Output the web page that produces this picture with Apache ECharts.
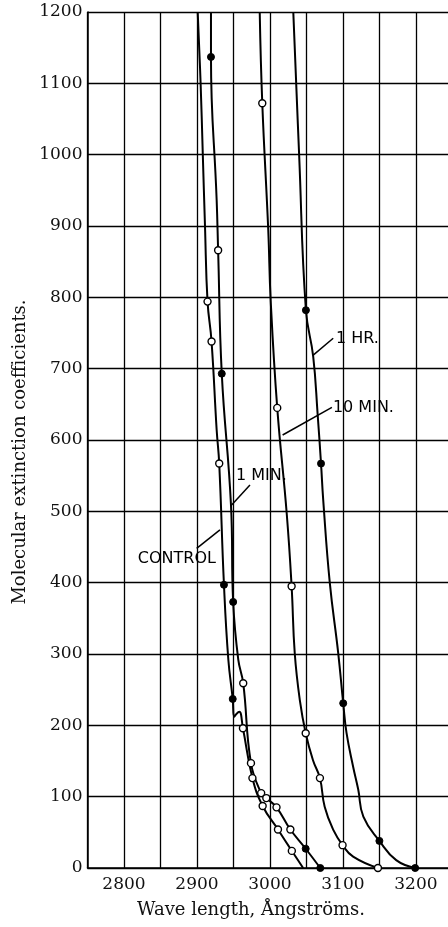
<!DOCTYPE html>
<html><head><meta charset="utf-8">
<script src="https://cdn.jsdelivr.net/npm/echarts@6/dist/echarts.min.js"></script>
<style>html,body{margin:0;padding:0;background:#fff}#c{width:448px;height:927px}</style>
</head><body><div id="c"></div>
<script>
// Wave length (Å) vs molecular extinction coefficient
const control = [[2901,1200],[2905,1100],[2908,1000],[2911,900],[2914.5,794],[2920,738],[2927,614],[2930.5,567],[2937,397],[2943,292],[2949,237],[2951,212],[2954,216],[2958,219],[2963,196],[2976,126],[2990,87],[3011,54],[3030,24],[3045.5,0]];
const oneMin = [[2919.2,1200],[2919.2,1137],[2927,936],[2929,866],[2934,693],[2946.6,509],[2949.6,373],[2956.6,292],[2963.4,259],[2974,147],[2988,105],[2995,98],[3009,85],[3028,54],[3049,27],[3069,0]];
const tenMin = [[2986,1200],[2989.5,1072],[2997.7,894],[3001,796],[3010,645],[3023,497],[3029.7,395],[3034,301],[3041,235],[3049,189],[3059,151],[3068.5,126],[3075,86],[3087,53],[3099.5,32],[3114,16],[3148,0]];
const oneHr = [[3032,1200],[3040,1000],[3049.3,782],[3059.3,717],[3065.3,637],[3070,567],[3073,516],[3082,400],[3093.6,301],[3100.4,231],[3105,189],[3114,142],[3121,110],[3128,72],[3150,38],[3173,11],[3199,0]];
const openPoints = [[2914.5,794],[2920,738],[2930.5,567],[2963,196],[2976,126],[2990,87],[3011,54],[3030,24],
  [2929,866],[2963.4,259],[2974,147],[2988,105],[2995,98],[3009,85],[3028,54],
  [2989.5,1072],[3010,645],[3029.7,395],[3049,189],[3068.5,126],[3099.5,32],[3148,0]];
const filledPoints = [[2937,397],[2949,237],
  [2919.2,1137],[2934,693],[2949.6,373],[3049,27],[3069,0],
  [3049.3,782],[3070,567],[3100.4,231],[3150,38],[3199,0]];
const xTickLabels = [2800,2900,3000,3100,3200];
const yTickLabels = [0,100,200,300,400,500,600,700,800,900,1000,1100,1200];
const annotations = [
  {text:'1 HR.', tip:[3059.3,719], end:[3086.7,742.6], anchor:[3090.4,741.6], align:'left'},
  {text:'10 MIN.', tip:[3017.4,607], end:[3084.9,645.8], anchor:[3086.3,645.6], align:'left'},
  {text:'1 MIN.', tip:[2947.5,509], end:[2972.6,537], anchor:[2953.4,549.6], align:'left'},
  {text:'CONTROL', tip:[2931.5,474], end:[2899.6,448], anchor:[2926,433.2], align:'right'}
];

const serif = 'DejaVu Serif';
const chart = echarts.init(document.getElementById('c'), null, {renderer:'canvas'});
const lineStyle = {color:'#000', width:2};
function curve(name, data){
  return {name, type:'line', data, smooth:0.45, showSymbol:false, symbol:'none',
    lineStyle, z:3, animation:false, silent:true};
}
chart.setOption({
  animation:false,
  backgroundColor:'#fff',
  grid:{left:87.5, top:12, right:0, bottom:59, containLabel:false},
  xAxis:{type:'value', min:2750, max:3244, interval:50,
    axisLine:{show:true, onZero:false, lineStyle:{color:'#000', width:1.5}},
    axisTick:{show:false},
    axisLabel:{margin:8, color:'#111', fontFamily:serif, fontSize:17, showMaxLabel:false,
      formatter:v => xTickLabels.indexOf(v) >= 0 ? String(v) : ''},
    splitLine:{show:true, showMaxLine:false, lineStyle:{color:'#000', width:1.3}}},
  yAxis:{type:'value', min:0, max:1200, interval:100,
    axisLine:{show:true, lineStyle:{color:'#000', width:1.5}},
    axisTick:{show:false},
    axisLabel:{margin:5, color:'#111', fontFamily:serif, fontSize:17,
      formatter:v => yTickLabels.indexOf(v) >= 0 ? String(v) : ''},
    splitLine:{show:true, lineStyle:{color:'#000', width:1.3}}},
  series:[
    curve('CONTROL', control),
    curve('1 MIN.', oneMin),
    curve('10 MIN.', tenMin),
    curve('1 HR.', oneHr),
    {type:'scatter', data:openPoints, symbol:'circle', symbolSize:7, z:5, silent:true,
      itemStyle:{color:'#fff', borderColor:'#000', borderWidth:1.4, opacity:1}},
    {type:'scatter', data:filledPoints, symbol:'circle', symbolSize:7, z:5, silent:true,
      itemStyle:{color:'#000', borderColor:'#000', borderWidth:1, opacity:1}}
  ]
});

const g = [];
annotations.forEach(a => {
  const p1 = chart.convertToPixel({gridIndex:0}, a.tip);
  const p2 = chart.convertToPixel({gridIndex:0}, a.end);
  const p3 = chart.convertToPixel({gridIndex:0}, a.anchor);
  g.push({type:'line', shape:{x1:p1[0], y1:p1[1], x2:p2[0], y2:p2[1]},
    style:{stroke:'#000', lineWidth:1.5}, z:10, silent:true});
  g.push({type:'text', x:p3[0], y:p3[1], z:10, silent:true,
    style:{text:a.text, fill:'#000', font:'16px "DejaVu Sans"', textAlign:a.align, textVerticalAlign:'middle'}});
});
g.push({type:'text', x:251, y:910, z:10, silent:true,
  style:{text:'Wave length, Ångströms.', fill:'#111', font:'18px "DejaVu Serif"', textAlign:'center', textVerticalAlign:'middle'}});
g.push({type:'text', x:20, y:452, rotation:Math.PI/2, z:10, silent:true,
  style:{text:'Molecular extinction coefficients.', fill:'#111', font:'18px "DejaVu Serif"', textAlign:'center', textVerticalAlign:'middle'}});
chart.setOption({graphic:g});
</script></body></html>
